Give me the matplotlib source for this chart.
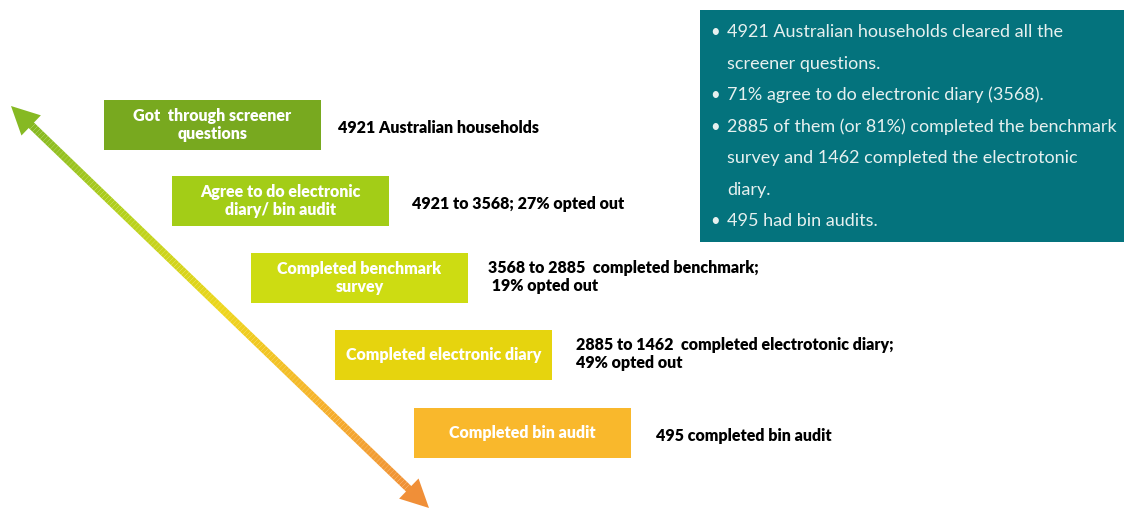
import numpy as np
import matplotlib.pyplot as plt
from matplotlib.patches import Rectangle, Polygon
from matplotlib.collections import LineCollection
from matplotlib.colors import LinearSegmentedColormap

plt.rcParams['font.family'] = ['Lato', 'DejaVu Sans']

# funnel steps
steps = ['Got  through screener\nquestions',
         'Agree to do electronic\ndiary/ bin audit',
         'Completed benchmark\nsurvey',
         'Completed electronic diary',
         'Completed bin audit']
notes = ['4921 Australian households',
         '4921 to 3568; 27% opted out',
         '3568 to 2885  completed benchmark;\n 19% opted out',
         '2885 to 1462  completed electrotonic diary;\n49% opted out',
         '495 completed bin audit']
step_colors = ['#78a91f', '#a3cd17', '#cddc12', '#e6d40e', '#f9b82c']

summary = ['4921 Australian households cleared all the\nscreener questions.',
           '71% agree to do electronic diary (3568).',
           '2885 of them (or 81%) completed the benchmark\nsurvey and 1462 completed the electrotonic\ndiary.',
           '495 had bin audits.']

arrow_stops = ['#86b923', '#b7d21c', '#eed61c', '#f6b32c', '#f08f38']

# layout (pixel coordinates of the slide)
W, H = 1124, 509
box_x = [104, 172, 251, 335, 414]
box_y = [100, 176, 253, 330, 408]
box_w, box_h = 217, 50
note_x = [338, 412, 488, 576, 656]

fig = plt.figure(figsize=(W / 100, H / 100), dpi=100)
ax = fig.add_axes([0, 0, 1, 1])
ax.set_xlim(0, W)
ax.set_ylim(H, 0)
ax.axis('off')

for i, (lab, note, c) in enumerate(zip(steps, notes, step_colors)):
    ax.add_patch(Rectangle((box_x[i], box_y[i]), box_w, box_h, color=c, lw=0))
    ax.text(box_x[i] + box_w / 2, box_y[i] + box_h / 2, lab, ha='center', va='center',
            color='white', fontsize=11.5, fontweight='heavy', linespacing=1.15)
    ax.text(note_x[i], box_y[i] + box_h / 2 + (-1 if '\n' in note else 3), note,
            ha='left', va='center', color='black', fontsize=11.5, fontweight='heavy',
            linespacing=1.15)

# summary panel
ax.add_patch(Rectangle((700, 10), 424, 232, color='#04737d', lw=0))
y = 32
for item in summary:
    for j, line in enumerate(item.split('\n')):
        if j == 0:
            ax.text(710, y, '\u2022', ha='left', va='center', color='#e6f0ef', fontsize=12)
        ax.text(727, y, line, ha='left', va='center', color='#e6f0ef', fontsize=13)
        y += 31.5

# double headed gradient arrow
cmap = LinearSegmentedColormap.from_list('arr', arrow_stops)
p0 = np.array([30, 124])
p1 = np.array([412, 492])
t = np.linspace(0, 1, 150)
pts = p0 + np.outer(t, p1 - p0)
segs = np.stack([pts[:-1], pts[1:]], axis=1)
lc = LineCollection(segs, colors=cmap(t[:-1]), linewidths=5.5, capstyle='butt')
ax.add_collection(lc)

d = (p1 - p0) / np.linalg.norm(p1 - p0)
n = np.array([-d[1], d[0]])
head_len, head_w = 28, 14
tip0 = np.array([11, 106])
tip1 = np.array([429, 508])
for tip, dirv, col in [(tip0, -d, cmap(0.0)), (tip1, d, cmap(1.0))]:
    base = tip - dirv * head_len
    ax.add_patch(Polygon([tip, base + n * head_w, base - n * head_w], closed=True,
                         color=col, lw=0))

fig.savefig('out.png', dpi=100, facecolor='white')
